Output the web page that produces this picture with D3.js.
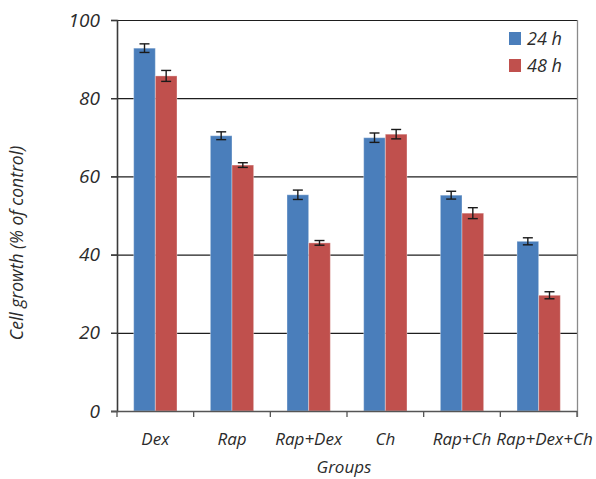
<!DOCTYPE html>
<html>
<head>
<meta charset="utf-8">
<script src="https://cdn.jsdelivr.net/npm/d3@7"></script>
<style>
  html, body { margin: 0; padding: 0; background: #fff; }
  svg { display: block; }
  text { font-family: "Open Sans", "DejaVu Sans", sans-serif; font-style: italic; fill: #2b2b2b; }
</style>
</head>
<body>
<svg id="chart" width="596" height="479"></svg>
<script>
// Groups and series
const categories = ["Dex", "Rap", "Rap+Dex", "Ch", "Rap+Ch", "Rap+Dex+Ch"];
const seriesNames = ["24 h", "48 h"];
const seriesColors = ["#4a7ebb", "#c0504d"];

// Cell growth (% of control), mean and error per group
const values24h = [92.8, 70.4, 55.3, 69.9, 55.2, 43.4];
const errors24h = [1.1, 1.0, 1.2, 1.2, 1.0, 0.9];
const values48h = [85.7, 62.9, 43.0, 70.8, 50.6, 29.6];
const errors48h = [1.4, 0.6, 0.6, 1.2, 1.4, 0.9];

const yTicks = [0, 20, 40, 60, 80, 100];

const svg = d3.select("#chart");
const plotLeft = 117, plotRight = 577, plotTop = 20, plotBottom = 411;

const x0 = d3.scaleBand().domain(categories).range([plotLeft, plotRight]).padding(0);
const x1 = d3.scaleBand().domain(seriesNames).range([0, x0.bandwidth()])
  .paddingInner(0).paddingOuter(0.77);
const y = d3.scaleLinear().domain([0, 100]).range([plotBottom, plotTop]);

const rows = categories.map((c, i) => ({
  cat: c,
  items: [
    { s: seriesNames[0], v: values24h[i], e: errors24h[i], color: seriesColors[0] },
    { s: seriesNames[1], v: values48h[i], e: errors48h[i], color: seriesColors[1] }
  ]
}));

// Horizontal gridlines with short ticks left of the axis
svg.append("g")
  .selectAll("line")
  .data(yTicks.filter(t => t > 0))
  .join("line")
  .attr("x1", plotLeft - 6).attr("x2", plotRight)
  .attr("y1", d => y(d) + 0.5).attr("y2", d => y(d) + 0.5)
  .attr("stroke", "#1e1e1e").attr("stroke-width", 1.2);

// Right border of the plot frame
svg.append("line")
  .attr("x1", plotRight + 0.5).attr("x2", plotRight + 0.5)
  .attr("y1", plotTop).attr("y2", plotBottom + 6)
  .attr("stroke", "#8a8a8a").attr("stroke-width", 1.3);

// Bars
const groups = svg.append("g").selectAll("g")
  .data(rows).join("g")
  .attr("transform", d => `translate(${x0(d.cat)},0)`);

groups.selectAll("rect")
  .data(d => d.items).join("rect")
  .attr("x", d => x1(d.s))
  .attr("width", x1.bandwidth())
  .attr("y", d => y(d.v))
  .attr("height", d => y(0) - y(d.v))
  .attr("fill", d => d.color)
  .attr("stroke", "rgba(255,255,255,0.35)")
  .attr("stroke-width", 1);

// Error bars
const eb = groups.selectAll("g.err")
  .data(d => d.items).join("g").attr("class", "err")
  .attr("stroke", "#1a1a1a").attr("stroke-width", 1.4);
eb.append("line")
  .attr("x1", d => x1(d.s) + x1.bandwidth() / 2)
  .attr("x2", d => x1(d.s) + x1.bandwidth() / 2)
  .attr("y1", d => y(d.v + d.e)).attr("y2", d => y(d.v - d.e));
eb.append("line")
  .attr("x1", d => x1(d.s) + x1.bandwidth() / 2 - 5)
  .attr("x2", d => x1(d.s) + x1.bandwidth() / 2 + 5)
  .attr("y1", d => y(d.v + d.e)).attr("y2", d => y(d.v + d.e));
eb.append("line")
  .attr("x1", d => x1(d.s) + x1.bandwidth() / 2 - 5)
  .attr("x2", d => x1(d.s) + x1.bandwidth() / 2 + 5)
  .attr("y1", d => y(d.v - d.e)).attr("y2", d => y(d.v - d.e));

// Y axis
const yAxis = svg.append("g")
  .attr("transform", `translate(${plotLeft},0)`)
  .call(d3.axisLeft(y).tickValues(yTicks).tickSize(6).tickPadding(11).tickFormat(d3.format("d")));
yAxis.attr("font-family", null).attr("font-size", null);
yAxis.select(".domain").attr("stroke", "#3a3a3a").attr("stroke-width", 1.6);
yAxis.selectAll(".tick line").attr("stroke", "#3a3a3a").attr("stroke-width", 1.2);
yAxis.selectAll(".tick text")
  .attr("font-size", 19).attr("fill", "#2b2b2b");

// X axis with tick marks at group boundaries
const xAxisLine = svg.append("g");
xAxisLine.append("line")
  .attr("x1", plotLeft - 6).attr("x2", plotRight)
  .attr("y1", plotBottom + 0.5).attr("y2", plotBottom + 0.5)
  .attr("stroke", "#555").attr("stroke-width", 1.4);
const boundaries = categories.map(c => x0(c)).concat([x0(categories[categories.length - 1]) + x0.bandwidth()]);
xAxisLine.selectAll("line.b")
  .data(boundaries).join("line").attr("class", "b")
  .attr("x1", d => d).attr("x2", d => d)
  .attr("y1", plotBottom).attr("y2", plotBottom + 6)
  .attr("stroke", "#555").attr("stroke-width", 1.3);

const catLabels = svg.append("g").selectAll("text")
  .data(categories).join("text")
  .attr("x", d => x0(d) + x0.bandwidth() / 2)
  .attr("y", 445)
  .attr("text-anchor", "middle")
  .attr("font-size", 17)
  .text(d => d);

// Nudge labels right where a long name would run into its neighbour
let prevRight = -Infinity;
catLabels.each(function () {
  const t = d3.select(this);
  const w = this.getComputedTextLength();
  let cx = +t.attr("x");
  if (cx - w / 2 < prevRight + 5) {
    cx = prevRight + 5 + w / 2;
    t.attr("x", cx);
  }
  prevRight = cx + w / 2;
});

// Axis titles
svg.append("text")
  .attr("x", 344).attr("y", 473)
  .attr("text-anchor", "middle").attr("font-size", 17)
  .text("Groups");
svg.append("text")
  .attr("transform", "translate(23,243) rotate(-90)")
  .attr("text-anchor", "middle").attr("font-size", 17.5)
  .text("Cell growth (% of control)");

// Legend
const legend = svg.append("g").selectAll("g")
  .data(seriesNames).join("g")
  .attr("transform", (d, i) => `translate(509,${32 + i * 27})`);
legend.append("rect")
  .attr("width", 12).attr("height", 13)
  .attr("fill", (d, i) => seriesColors[i]);
legend.append("text")
  .attr("x", 18).attr("y", 13)
  .attr("font-size", 18)
  .text(d => d);
</script>
</body>
</html>
